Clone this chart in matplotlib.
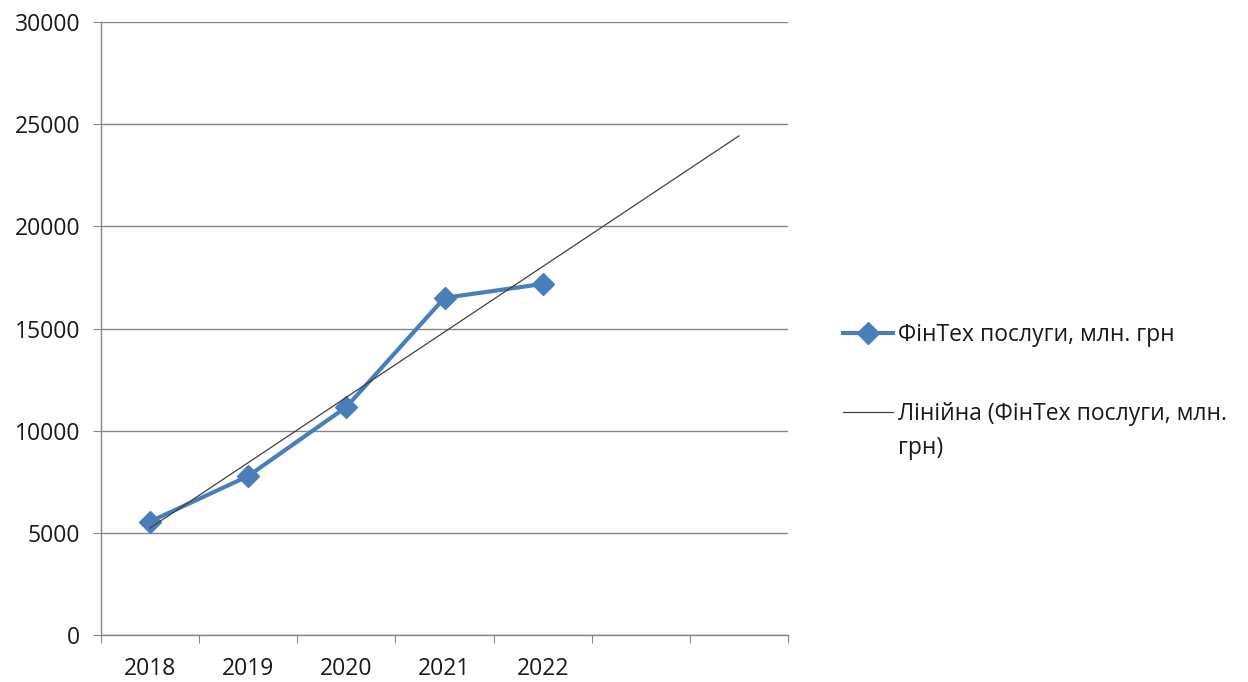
import numpy as np
import matplotlib

matplotlib.use("Agg")
import matplotlib.pyplot as plt

plt.rcParams["font.family"] = ["Open Sans", "DejaVu Sans"]

# data
years = ["2018", "2019", "2020", "2021", "2022"]
fintech = [5550, 7780, 11160, 16500, 17180]
n_slots = 7          # Excel category axis leaves two empty slots (trend forecast)
forecast = 2

series_label = "ФінТех послуги, млн. грн"
trend_label = "Лінійна (ФінТех послуги, млн.\nгрн)"

BLUE = "#4a7ebb"
GRID = "#868686"
TXT = "#1a1a1a"
FS = 16.5
LSP = 1.55

fig = plt.figure(figsize=(12.48, 6.82), dpi=100)
ax = fig.add_axes([101 / 1248, 47 / 682, 687 / 1248, 613 / 682])

x = np.arange(len(years))
ax.plot(x, fintech, color=BLUE, lw=3.0, marker="D", ms=11,
        label=series_label, zorder=3)

# linear trend over the data, extended two periods forward
k, b = np.polyfit(x + 1, fintech, 1)
xt = np.arange(len(years) + forecast)
ax.plot(xt, k * (xt + 1) + b, color="#404040", lw=0.9,
        label=trend_label, zorder=4)

ax.set_xlim(-0.5, n_slots - 0.5)
ax.set_ylim(0, 30000)
ax.set_yticks(np.arange(0, 30001, 5000))
ax.yaxis.grid(True, color=GRID, lw=1.0)
ax.set_axisbelow(True)

ax.set_xticks(np.arange(n_slots + 1) - 0.5)
ax.set_xticklabels([])
ax.set_xticks(x, minor=True)
ax.set_xticklabels(years, minor=True)
ax.tick_params(axis="x", which="major", length=5.8, color=GRID, direction="out")
ax.tick_params(axis="x", which="minor", length=0, pad=16, labelsize=FS,
               labelcolor=TXT)
ax.tick_params(axis="y", length=5.8, color=GRID, direction="out", pad=9,
               labelsize=FS, labelcolor=TXT)

for side in ("top", "right"):
    ax.spines[side].set_visible(False)
for side in ("left", "bottom"):
    ax.spines[side].set_color(GRID)
    ax.spines[side].set_linewidth(1.0)

leg = fig.legend(loc="upper left", bbox_to_anchor=(843 / 1248, 1 - 323 / 682),
                 frameon=False, fontsize=FS, handlelength=2.2,
                 handletextpad=0.2, labelspacing=2.4, borderaxespad=0,
                 borderpad=0)
for t in leg.get_texts():
    t.set_color(TXT)
    t.set_linespacing(LSP)

# Excel puts the trend handle next to the first line of the wrapped label
h = leg.legend_handles[1]
h.set_ydata(np.asarray(h.get_ydata()) + 14.5)

fig.savefig("out.png", dpi=100)
